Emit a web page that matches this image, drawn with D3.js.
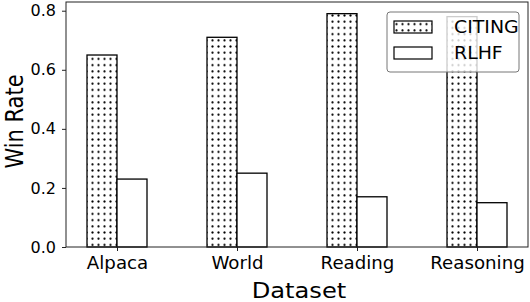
<!DOCTYPE html>
<html>
<head>
<meta charset="utf-8">
<script src="https://cdn.jsdelivr.net/npm/d3@7"></script>
<style>
  body { margin: 0; background: #fff; }
  text { font-family: "DejaVu Sans", sans-serif; fill: #000; }
</style>
</head>
<body>
<script>
// data
var datasets = ["Alpaca", "World", "Reading", "Reasoning"];
var citing = [0.65, 0.71, 0.79, 0.78];
var rlhf = [0.23, 0.25, 0.17, 0.15];
var yTicks = [0.0, 0.2, 0.4, 0.6, 0.8];
var seriesNames = ["CITING", "RLHF"];

var W = 530, H = 302;
var m = {left: 66, right: 2, top: 2, bottom: 55};

// the original picture is a bit wider than tall, so text gets stretched sideways
function stretch(sel, k) {
    sel.each(function() {
        var L = this.getComputedTextLength();
        d3.select(this).attr("textLength", L * k).attr("lengthAdjust", "spacingAndGlyphs");
    });
}

var svg = d3.select("body").append("svg")
    .attr("width", W).attr("height", H);

var defs = svg.append("defs");
var pat = defs.append("pattern")
    .attr("id", "dots")
    .attr("patternUnits", "userSpaceOnUse")
    .attr("width", 6).attr("height", 6.2);
pat.append("rect").attr("width", 6).attr("height", 6.2).attr("fill", "#fff");
pat.append("circle").attr("cx", 2.5).attr("cy", 3).attr("r", 1.1).attr("fill", "#000");

// numeric x like matplotlib: group i at x=i, bars width 0.25
var x = d3.scaleLinear()
    .domain([-0.425, 3.425])
    .range([m.left, W - m.right]);
var y = d3.scaleLinear()
    .domain([0, 0.8295])
    .range([H - m.bottom, m.top]);

var bw = x(0.25) - x(0);

// CITING bars
svg.append("g").selectAll("rect")
    .data(citing)
    .enter()
    .append("rect")
    .attr("x", function(d, i) { return x(i - 0.25); })
    .attr("y", function(d) { return y(d); })
    .attr("width", bw)
    .attr("height", function(d) { return y(0) - y(d); })
    .attr("fill", "url(#dots)")
    .attr("stroke", "#000").attr("stroke-width", 1.3);

// RLHF bars
svg.append("g").selectAll("rect")
    .data(rlhf)
    .enter()
    .append("rect")
    .attr("x", function(d, i) { return x(i); })
    .attr("y", function(d) { return y(d); })
    .attr("width", bw)
    .attr("height", function(d) { return y(0) - y(d); })
    .attr("fill", "#fff")
    .attr("stroke", "#000").attr("stroke-width", 1.3);

// axes
var xAxis = d3.axisBottom(x)
    .tickValues(d3.range(datasets.length))
    .tickFormat(function(d) { return datasets[d]; })
    .tickSize(4).tickPadding(6);
var gx = svg.append("g")
    .attr("transform", "translate(0," + y(0) + ")")
    .call(xAxis);
gx.select(".domain").remove();
gx.selectAll("text").style("font-size", "17px").attr("dy", "0.72em");
stretch(gx.selectAll("text"), 1.07);

var yAxis = d3.axisLeft(y)
    .tickValues(yTicks)
    .tickFormat(d3.format(".1f"))
    .tickSize(4).tickPadding(6);
var gy = svg.append("g")
    .attr("transform", "translate(" + m.left + ",0)")
    .call(yAxis);
gy.select(".domain").remove();
gy.selectAll("text").style("font-size", "16px");
svg.selectAll(".tick line").attr("stroke", "#222").attr("stroke-width", 1);

// frame
svg.append("rect")
    .attr("x", m.left).attr("y", m.top)
    .attr("width", W - m.right - m.left)
    .attr("height", y(0) - m.top)
    .attr("fill", "none").attr("stroke", "#222").attr("stroke-width", 1);

// axis labels
var xl = svg.append("text")
    .attr("x", (m.left + W - m.right) / 2 + 2).attr("y", 298)
    .attr("text-anchor", "middle")
    .style("font-size", "21px")
    .text("Dataset");
stretch(xl, 1.15);
svg.append("text")
    .attr("transform", "translate(23," + ((m.top + y(0)) / 2 - 3) + ") scale(1.2,1) rotate(-90)")
    .attr("text-anchor", "middle")
    .style("font-size", "21px")
    .text("Win Rate");

// legend
var lg = svg.append("g").attr("transform", "translate(387,12)");
lg.append("rect")
    .attr("width", 132).attr("height", 60)
    .attr("rx", 3)
    .attr("fill", "#fff").attr("fill-opacity", 0.8)
    .attr("stroke", "#777").attr("stroke-width", 1);
var items = lg.selectAll("g.item")
    .data(seriesNames)
    .enter()
    .append("g")
    .attr("transform", function(d, i) { return "translate(7," + (9 + i * 26) + ")"; });
items.append("rect")
    .attr("width", 38).attr("height", 12)
    .attr("fill", function(d, i) { return i === 0 ? "url(#dots)" : "#fff"; })
    .attr("stroke", "#000").attr("stroke-width", 1.2);
var lt = items.append("text")
    .attr("x", 60).attr("y", 6)
    .attr("dy", "0.36em")
    .style("font-size", "17.5px")
    .text(function(d) { return d; });
stretch(lt, 1.08);
</script>
</body>
</html>
